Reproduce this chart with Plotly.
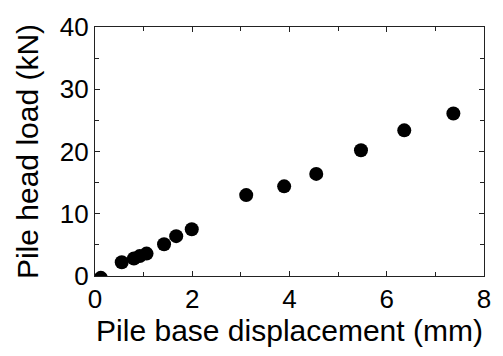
import plotly.graph_objects as go

# Pile load test: base displacement (mm) vs head load (kN)
displacement_mm = [0.12, 0.55, 0.80, 0.92, 1.06, 1.42, 1.67, 1.99, 3.11, 3.89, 4.55, 5.47, 6.36, 7.37]
head_load_kN = [-0.3, 2.2, 2.8, 3.2, 3.6, 5.1, 6.4, 7.5, 13.0, 14.4, 16.4, 20.2, 23.4, 26.1]

x_ticks = [0, 2, 4, 6, 8]
y_ticks = [0, 10, 20, 30, 40]

FONT = "Arial"

fig = go.Figure(
    go.Scatter(
        x=displacement_mm,
        y=head_load_kN,
        mode="markers",
        marker=dict(size=14, color="black"),
        cliponaxis=True,
        showlegend=False,
    )
)

axis_common = dict(
    showgrid=False,
    zeroline=False,
    showline=True,
    linecolor="#222",
    linewidth=1.3,
    mirror="allticks",
    ticks="inside",
    ticklen=5,
    tickwidth=1,
    tickcolor="#222",
    ticklabeloverflow="allow",
    tickfont=dict(family=FONT, size=26, color="black"),
    minor=dict(ticks="inside", ticklen=4, tickwidth=1, tickcolor="#222"),
)

fig.update_xaxes(
    range=[0, 8],
    tickvals=x_ticks,
    minor_dtick=1,
    minor_tick0=0,
    title=dict(text="Pile base displacement (mm)",
               font=dict(family=FONT, size=30, color="black"),
               standoff=0),
    **axis_common,
)
fig.update_yaxes(
    range=[0, 40],
    tickvals=y_ticks,
    minor_dtick=5,
    minor_tick0=0,
    title=dict(text="Pile head load (kN)",
               font=dict(family=FONT, size=30, color="black"),
               standoff=12),
    **axis_common,
)

fig.update_layout(
    width=503,
    height=356,
    margin=dict(l=95, r=13, t=14, b=80),
    plot_bgcolor="white",
    paper_bgcolor="white",
)

fig.write_html("out.html")
